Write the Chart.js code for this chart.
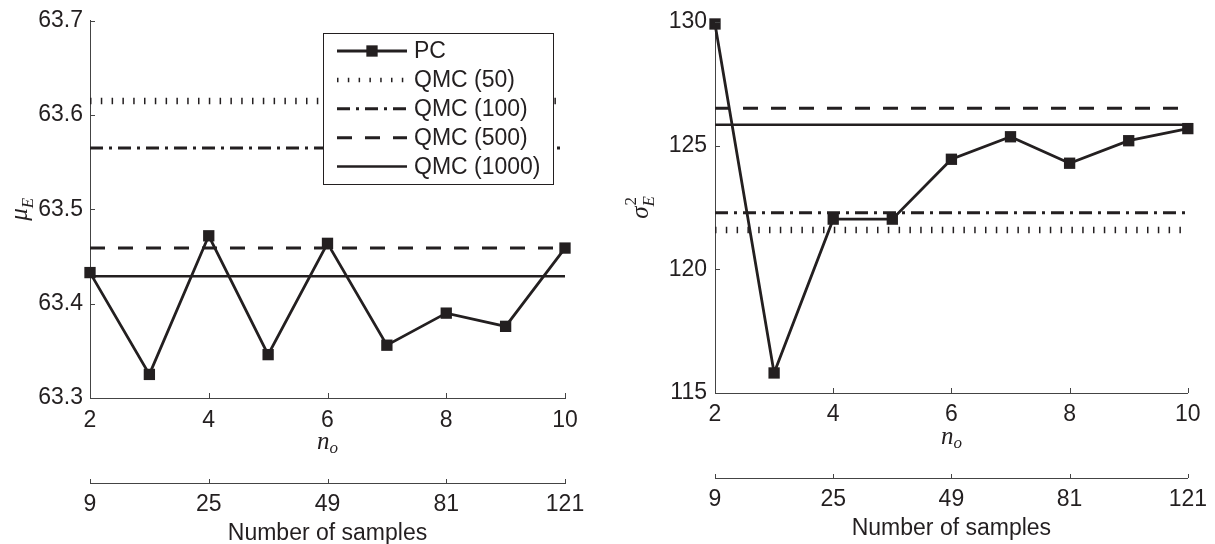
<!DOCTYPE html>
<html>
<head>
<meta charset="utf-8">
<script src="https://cdn.jsdelivr.net/npm/chart.js@4.4.1/dist/chart.umd.min.js"></script>
<style>
  html, body { margin: 0; padding: 0; background: #fff; }
  #wrap { position: relative; width: 1215px; height: 544px; }
  canvas { position: absolute; top: 0; }
  #meanChart { left: 0; }
  #varChart { left: 607px; }
</style>
</head>
<body>
<div id="wrap">
  <canvas id="meanChart" width="607" height="544"></canvas>
  <canvas id="varChart" width="608" height="544"></canvas>
</div>
<script>
// order of the expansion on the bottom axis, sample count (n_o+1)^2 on the lower one
const nO = [2, 3, 4, 5, 6, 7, 8, 9, 10];
const nOTicks = [2, 4, 6, 8, 10];
const sampleLabels = ['9', '25', '49', '81', '121'];
const seriesNames = ['PC', 'QMC (50)', 'QMC (100)', 'QMC (500)', 'QMC (1000)'];

// mean of E
const meanPC = [63.433, 63.325, 63.472, 63.346, 63.464, 63.356, 63.390, 63.376, 63.459];
const meanQMC = [63.615, 63.565, 63.459, 63.429];
// variance of E
const varPC = [129.92, 115.81, 122.03, 122.03, 124.45, 125.36, 124.29, 125.20, 125.69];
const varQMC = [121.59, 122.29, 126.51, 125.85];

const ink = '#231f20';
const axisGrey = '#444';
const sans = '"Liberation Sans", Arial, Helvetica, sans-serif';
const serif = '"Liberation Serif", "Times New Roman", serif';

// QMC (50) dotted, (100) dash-dot, (500) dashed, (1000) solid
const qmcStyles = [
  { dash: [1.5, 9.3], width: 6.5 },
  { dash: [13, 6, 3, 6], width: 3 },
  { dash: [15, 13], width: 3 },
  { dash: [], width: 2.5 }
];

function buildDatasets(pc, qmc) {
  const sets = [{
    label: seriesNames[0],
    data: nO.map((v, i) => ({ x: v, y: pc[i] })),
    borderColor: ink,
    backgroundColor: ink,
    borderWidth: 2.8,
    pointStyle: 'rect',
    pointRadius: 8,
    pointBorderWidth: 0,
    clip: false,
    order: 0
  }];
  qmc.forEach((v, i) => {
    sets.push({
      label: seriesNames[i + 1],
      data: [{ x: nO[0], y: v }, { x: nO[nO.length - 1], y: v }],
      borderColor: ink,
      borderWidth: qmcStyles[i].width,
      borderDash: qmcStyles[i].dash,
      pointRadius: 0,
      clip: false,
      order: 1
    });
  });
  return sets;
}

const tickFont = { family: sans, size: 23 };

function scalesFor(yMin, yMax, yStep, box) {
  const setTicks = s => { s.ticks = nOTicks.map(v => ({ value: v })); };
  return {
    x: {
      type: 'linear', position: 'bottom', min: 2, max: 10,
      afterBuildTicks: setTicks,
      ticks: { font: tickFont, color: ink, padding: box.xPad, maxRotation: 0 },
      grid: { display: false, drawTicks: false },
      border: { color: axisGrey, width: 1 },
      afterFit: s => { s.height = box.xH; }
    },
    x2: {
      type: 'linear', position: 'bottom', min: 2, max: 10,
      afterBuildTicks: setTicks,
      ticks: {
        font: tickFont, color: ink, padding: box.x2Pad, maxRotation: 0,
        callback: v => sampleLabels[nOTicks.indexOf(v)]
      },
      grid: { display: false, drawTicks: false },
      border: { color: axisGrey, width: 1 },
      afterFit: s => { s.height = box.x2H; }
    },
    y: {
      type: 'linear', position: 'left', min: yMin, max: yMax,
      ticks: { font: tickFont, color: ink, padding: box.yPad, stepSize: yStep },
      grid: { display: false, drawTicks: false },
      border: { color: axisGrey, width: 1 },
      afterFit: s => { s.width = box.yW; }
    }
  };
}

// matlab-style ticks pointing into the plot
const inwardTicks = {
  id: 'inwardTicks',
  afterDraw(chart) {
    const { ctx } = chart;
    const { x, x2, y } = chart.scales;
    ctx.save();
    ctx.strokeStyle = axisGrey;
    ctx.lineWidth = 1;
    ctx.beginPath();
    x.ticks.forEach(t => {
      const px = Math.round(x.getPixelForValue(t.value)) + 0.5;
      ctx.moveTo(px, x.top); ctx.lineTo(px, x.top - 5);
    });
    x2.ticks.forEach(t => {
      const px = Math.round(x2.getPixelForValue(t.value)) + 0.5;
      ctx.moveTo(px, x2.top); ctx.lineTo(px, x2.top - 4);
    });
    y.ticks.forEach(t => {
      const py = Math.round(y.getPixelForValue(t.value)) + 0.5;
      ctx.moveTo(y.right, py); ctx.lineTo(y.right + 5, py);
    });
    ctx.stroke();
    ctx.restore();
  }
};

// axis titles with sub/superscripts
const mathTitles = {
  id: 'mathTitles',
  afterDraw(chart, args, opts) {
    const { ctx, chartArea } = chart;
    const x2 = chart.scales.x2;
    const cx = (chartArea.left + chartArea.right) / 2;
    ctx.save();
    ctx.fillStyle = ink;
    ctx.textBaseline = 'alphabetic';

    // n_o
    const big = 'italic 25px ' + serif;
    const small = 'italic 17px ' + serif;
    ctx.font = big;
    const wn = ctx.measureText('n').width;
    ctx.font = small;
    const wo = ctx.measureText('o').width;
    const nx = cx - (wn + wo) / 2;
    const ny = chartArea.bottom + 51;
    ctx.font = big; ctx.textAlign = 'left';
    ctx.fillText('n', nx, ny);
    ctx.font = small;
    ctx.fillText('o', nx + wn, ny + 4);

    // lower axis title
    ctx.font = '23px ' + sans;
    ctx.textAlign = 'center';
    ctx.textBaseline = 'middle';
    ctx.fillText('Number of samples', cx, x2.top + 51);

    // y title, rotated
    ctx.textBaseline = 'alphabetic';
    ctx.translate(opts.yTitleX, (chartArea.top + chartArea.bottom) / 2);
    ctx.rotate(-Math.PI / 2);
    ctx.font = big;
    const ws = ctx.measureText(opts.symbol).width;
    ctx.font = small;
    const we = ctx.measureText('E').width;
    const sx = -(ws + we) / 2;
    ctx.textAlign = 'left';
    ctx.font = big;
    ctx.fillText(opts.symbol, sx, 8);
    ctx.font = small;
    ctx.fillText('E', sx + ws, 14);
    if (opts.squared) {
      ctx.font = '17px ' + serif;
      ctx.fillText('2', sx + ws + 1, -4);
    }
    ctx.restore();
  }
};

// boxed legend inside the plot
const boxLegend = {
  id: 'boxLegend',
  afterDatasetsDraw(chart, args, opts) {
    if (!opts.show) return;
    const { ctx } = chart;
    ctx.save();
    ctx.fillStyle = '#fff';
    ctx.fillRect(opts.left, opts.top, opts.right - opts.left, opts.bottom - opts.top);
    ctx.strokeStyle = ink;
    ctx.lineWidth = 1;
    ctx.strokeRect(opts.left + 0.5, opts.top + 0.5, opts.right - opts.left, opts.bottom - opts.top);
    ctx.font = '23px ' + sans;
    ctx.textBaseline = 'middle';
    ctx.textAlign = 'left';
    chart.data.datasets.forEach((ds, i) => {
      const ry = opts.firstRow + i * opts.rowGap;
      ctx.strokeStyle = ink;
      ctx.lineWidth = Math.min(ds.borderWidth, 4.5);
      ctx.setLineDash(ds.borderDash || []);
      ctx.beginPath();
      ctx.moveTo(opts.lineFrom, ry);
      ctx.lineTo(opts.lineTo, ry);
      ctx.stroke();
      ctx.setLineDash([]);
      if (ds.pointRadius > 0) {
        const half = ds.pointRadius * Math.SQRT1_2;
        const mx = (opts.lineFrom + opts.lineTo) / 2;
        ctx.fillStyle = ink;
        ctx.fillRect(mx - half, ry - half, 2 * half, 2 * half);
      }
      ctx.fillStyle = ink;
      ctx.fillText(ds.label, opts.textX, ry + 1);
    });
    ctx.restore();
  }
};

function makeChart(id, pc, qmc, yMin, yMax, yStep, box, titleOpts, legendOpts) {
  return new Chart(document.getElementById(id), {
    type: 'line',
    data: { datasets: buildDatasets(pc, qmc) },
    options: {
      responsive: false,
      animation: false,
      devicePixelRatio: 1,
      layout: { padding: box.padding },
      scales: scalesFor(yMin, yMax, yStep, box),
      plugins: {
        legend: { display: false },
        tooltip: { enabled: false },
        mathTitles: titleOpts,
        boxLegend: legendOpts
      }
    },
    plugins: [inwardTicks, mathTitles, boxLegend]
  });
}

makeChart('meanChart', meanPC, meanQMC, 63.3, 63.7, 0.1,
  { padding: { left: 0, right: 42, top: 20, bottom: 0 }, yW: 90, yPad: 7, xH: 85, xPad: 9, x2H: 61, x2Pad: 8 },
  { symbol: 'μ', squared: false, yTitleX: 19 },
  { show: true, left: 323, top: 33, right: 553, bottom: 184, firstRow: 51, rowGap: 28.9, lineFrom: 337, lineTo: 407, textX: 414 });

makeChart('varChart', varPC, varQMC, 115, 130, 5,
  { padding: { left: 0, right: 25, top: 22, bottom: 0 }, yW: 108, yPad: 8, xH: 85, xPad: 8, x2H: 66, x2Pad: 8 },
  { symbol: 'σ', squared: true, yTitleX: 33 },
  { show: false });
</script>
</body>
</html>
